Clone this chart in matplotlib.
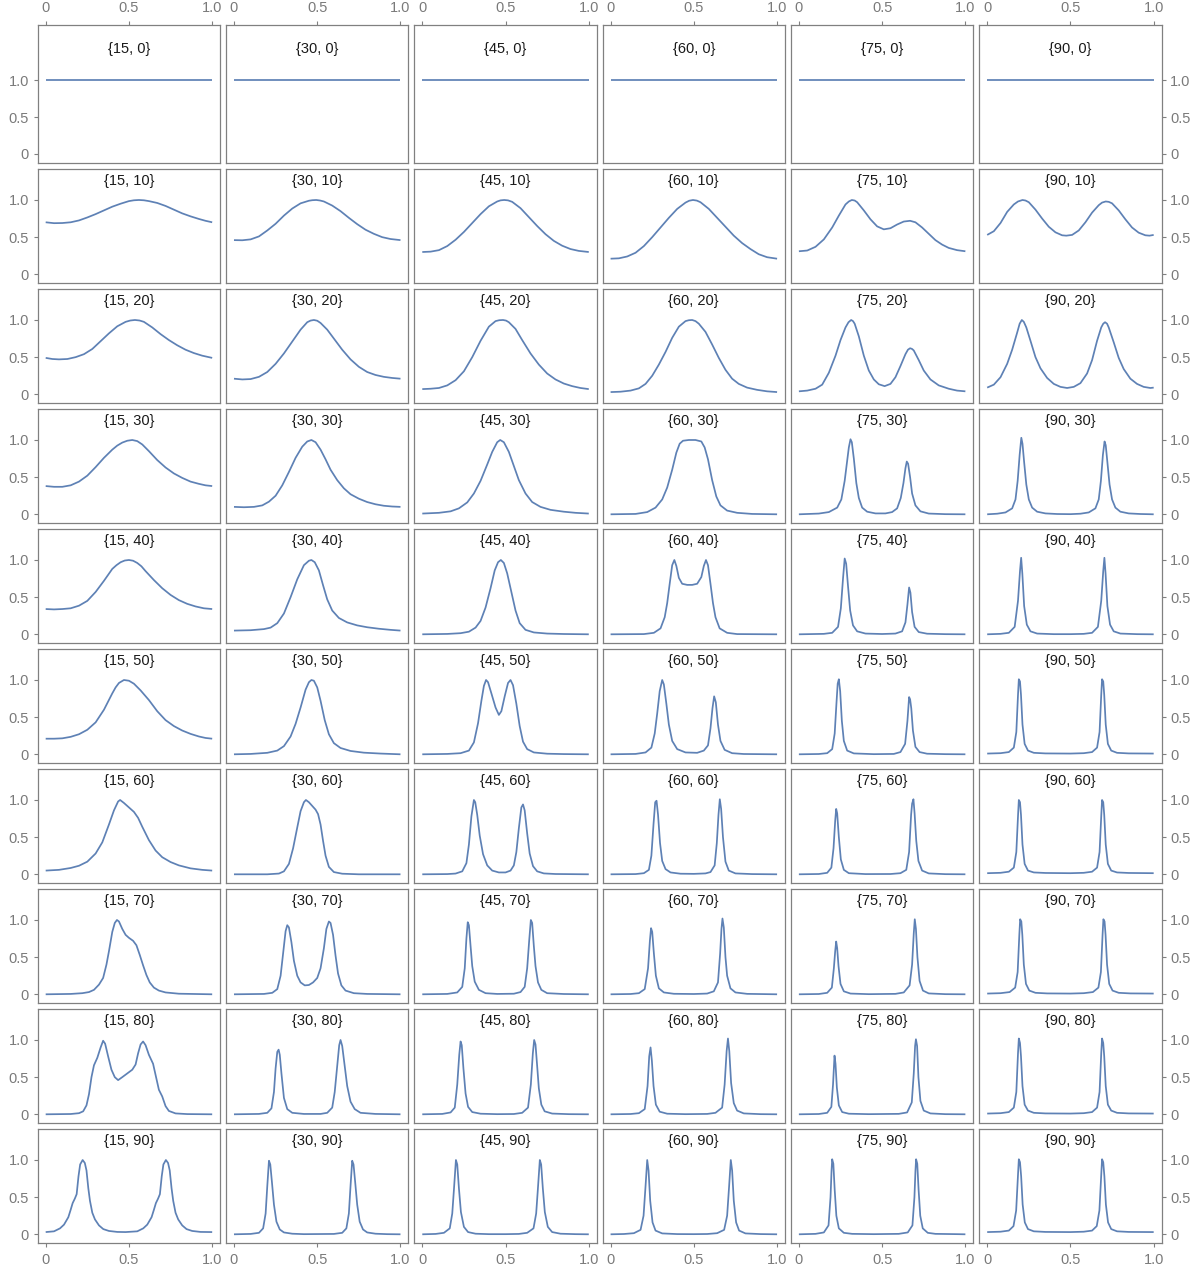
import matplotlib
matplotlib.use("Agg")
import matplotlib.pyplot as plt

# ---------------- data ----------------
theta1 = [15, 30, 45, 60, 75, 90]
theta2 = [0, 10, 20, 30, 40, 50, 60, 70, 80, 90]
tick_values = [0, 0.5, 1.0]
tick_labels = ["0", "0.5", "1.0"]

P15_0 = [(0.0, 1.0), (1.0, 1.0)]
P30_0 = [(0.0, 1.0), (1.0, 1.0)]
P45_0 = [(0.0, 1.0), (1.0, 1.0)]
P60_0 = [(0.0, 1.0), (1.0, 1.0)]
P75_0 = [(0.0, 1.0), (1.0, 1.0)]
P90_0 = [(0.0, 1.0), (1.0, 1.0)]

P15_10 = [(0, 0.70), (0.05, 0.688), (0.10, 0.69), (0.15, 0.70), (0.20, 0.725), (0.25, 0.765), (0.30, 0.81), (0.35, 0.86), (0.40, 0.91), (0.45, 0.95), (0.50, 0.985), (0.53, 0.996), (0.56, 1.0), (0.59, 0.996), (0.62, 0.985), (0.67, 0.96), (0.72, 0.92), (0.77, 0.87), (0.82, 0.82), (0.87, 0.78), (0.92, 0.745), (0.96, 0.72), (1.0, 0.70)]
P30_10 = [(0, 0.46), (0.05, 0.458), (0.10, 0.47), (0.15, 0.51), (0.20, 0.59), (0.25, 0.68), (0.30, 0.79), (0.35, 0.885), (0.40, 0.955), (0.45, 0.99), (0.47, 0.997), (0.494, 1.0), (0.517, 0.993), (0.54, 0.98), (0.59, 0.925), (0.64, 0.85), (0.69, 0.76), (0.74, 0.675), (0.79, 0.60), (0.84, 0.545), (0.89, 0.50), (0.94, 0.475), (1.0, 0.46)]
P45_10 = [(0, 0.30), (0.05, 0.305), (0.10, 0.325), (0.15, 0.38), (0.20, 0.465), (0.25, 0.57), (0.30, 0.69), (0.35, 0.81), (0.40, 0.915), (0.45, 0.98), (0.47, 0.995), (0.492, 1.0), (0.515, 0.995), (0.54, 0.975), (0.59, 0.89), (0.64, 0.77), (0.69, 0.65), (0.74, 0.54), (0.79, 0.45), (0.84, 0.385), (0.89, 0.34), (0.94, 0.315), (1.0, 0.30)]
P60_10 = [(0, 0.21), (0.05, 0.215), (0.10, 0.24), (0.15, 0.29), (0.20, 0.38), (0.25, 0.50), (0.30, 0.63), (0.35, 0.76), (0.40, 0.88), (0.45, 0.965), (0.472, 0.99), (0.495, 1.0), (0.518, 0.992), (0.54, 0.97), (0.59, 0.88), (0.64, 0.76), (0.69, 0.64), (0.74, 0.52), (0.79, 0.42), (0.84, 0.34), (0.89, 0.27), (0.94, 0.23), (1.0, 0.21)]
P75_10 = [(0, 0.31), (0.05, 0.32), (0.10, 0.37), (0.15, 0.47), (0.20, 0.63), (0.24, 0.79), (0.28, 0.94), (0.30, 0.98), (0.318, 1.0), (0.335, 0.993), (0.35, 0.97), (0.39, 0.86), (0.43, 0.74), (0.47, 0.645), (0.51, 0.605), (0.55, 0.62), (0.59, 0.67), (0.63, 0.71), (0.668, 0.72), (0.70, 0.70), (0.74, 0.63), (0.78, 0.545), (0.82, 0.46), (0.86, 0.40), (0.90, 0.355), (0.95, 0.325), (1.0, 0.31)]
P90_10 = [(0, 0.53), (0.04, 0.58), (0.08, 0.69), (0.12, 0.84), (0.16, 0.94), (0.185, 0.98), (0.212, 1.0), (0.23, 0.993), (0.25, 0.97), (0.29, 0.87), (0.33, 0.75), (0.37, 0.64), (0.41, 0.565), (0.45, 0.525), (0.475, 0.52), (0.51, 0.53), (0.55, 0.59), (0.59, 0.70), (0.63, 0.83), (0.67, 0.93), (0.69, 0.965), (0.712, 0.98), (0.73, 0.975), (0.75, 0.955), (0.79, 0.86), (0.83, 0.74), (0.87, 0.63), (0.91, 0.56), (0.95, 0.525), (0.975, 0.52), (1.0, 0.53)]

P15_20 = [(0, 0.49), (0.04, 0.475), (0.08, 0.47), (0.13, 0.475), (0.18, 0.50), (0.23, 0.54), (0.28, 0.61), (0.33, 0.715), (0.38, 0.82), (0.43, 0.915), (0.48, 0.975), (0.508, 0.993), (0.536, 1.0), (0.564, 0.993), (0.59, 0.975), (0.64, 0.90), (0.69, 0.81), (0.74, 0.73), (0.79, 0.66), (0.84, 0.60), (0.89, 0.555), (0.94, 0.52), (1.0, 0.49)]
P30_20 = [(0, 0.21), (0.05, 0.20), (0.10, 0.205), (0.15, 0.235), (0.20, 0.30), (0.25, 0.41), (0.30, 0.55), (0.35, 0.71), (0.40, 0.87), (0.44, 0.97), (0.46, 0.992), (0.48, 1.0), (0.50, 0.99), (0.52, 0.96), (0.56, 0.87), (0.60, 0.75), (0.65, 0.60), (0.70, 0.47), (0.75, 0.37), (0.80, 0.30), (0.85, 0.26), (0.90, 0.235), (0.95, 0.22), (1.0, 0.21)]
P45_20 = [(0, 0.07), (0.05, 0.075), (0.10, 0.085), (0.15, 0.12), (0.20, 0.19), (0.25, 0.31), (0.30, 0.50), (0.35, 0.72), (0.40, 0.91), (0.44, 0.985), (0.462, 0.997), (0.485, 1.0), (0.503, 0.992), (0.52, 0.97), (0.56, 0.88), (0.60, 0.73), (0.65, 0.55), (0.70, 0.40), (0.75, 0.28), (0.80, 0.20), (0.85, 0.145), (0.90, 0.11), (0.95, 0.085), (1.0, 0.07)]
P60_20 = [(0, 0.03), (0.06, 0.035), (0.12, 0.05), (0.17, 0.08), (0.21, 0.14), (0.25, 0.25), (0.29, 0.40), (0.33, 0.57), (0.37, 0.76), (0.41, 0.91), (0.45, 0.985), (0.47, 0.997), (0.49, 1.0), (0.51, 0.985), (0.53, 0.95), (0.57, 0.84), (0.61, 0.67), (0.65, 0.49), (0.69, 0.33), (0.73, 0.21), (0.77, 0.14), (0.82, 0.09), (0.88, 0.06), (0.94, 0.04), (1.0, 0.03)]
P75_20 = [(0, 0.04), (0.05, 0.05), (0.10, 0.075), (0.14, 0.13), (0.18, 0.29), (0.22, 0.52), (0.25, 0.73), (0.28, 0.90), (0.298, 0.97), (0.314, 1.0), (0.325, 0.985), (0.335, 0.95), (0.36, 0.78), (0.39, 0.52), (0.42, 0.32), (0.45, 0.20), (0.48, 0.135), (0.515, 0.11), (0.55, 0.14), (0.58, 0.23), (0.61, 0.38), (0.64, 0.54), (0.655, 0.60), (0.668, 0.62), (0.68, 0.61), (0.69, 0.59), (0.72, 0.46), (0.75, 0.32), (0.79, 0.20), (0.84, 0.12), (0.90, 0.075), (0.95, 0.05), (1.0, 0.04)]
P90_20 = [(0, 0.09), (0.04, 0.13), (0.08, 0.23), (0.12, 0.41), (0.15, 0.60), (0.18, 0.83), (0.195, 0.95), (0.208, 1.0), (0.22, 0.975), (0.235, 0.90), (0.26, 0.72), (0.29, 0.50), (0.32, 0.35), (0.36, 0.22), (0.40, 0.14), (0.44, 0.10), (0.48, 0.085), (0.52, 0.10), (0.56, 0.15), (0.60, 0.28), (0.63, 0.46), (0.66, 0.72), (0.685, 0.90), (0.697, 0.95), (0.708, 0.97), (0.72, 0.95), (0.73, 0.90), (0.76, 0.70), (0.79, 0.49), (0.82, 0.34), (0.86, 0.21), (0.90, 0.14), (0.94, 0.10), (0.98, 0.085), (1.0, 0.09)]

P15_30 = [(0, 0.38), (0.05, 0.37), (0.10, 0.37), (0.15, 0.39), (0.20, 0.44), (0.25, 0.52), (0.30, 0.635), (0.35, 0.76), (0.40, 0.87), (0.43, 0.925), (0.46, 0.965), (0.49, 0.99), (0.52, 1.0), (0.55, 0.985), (0.58, 0.94), (0.62, 0.85), (0.67, 0.73), (0.72, 0.63), (0.77, 0.55), (0.82, 0.49), (0.87, 0.44), (0.92, 0.41), (0.96, 0.39), (1.0, 0.38)]
P30_30 = [(0, 0.10), (0.06, 0.095), (0.12, 0.10), (0.17, 0.12), (0.21, 0.17), (0.25, 0.25), (0.29, 0.39), (0.33, 0.57), (0.37, 0.76), (0.41, 0.91), (0.44, 0.98), (0.465, 1.0), (0.49, 0.97), (0.52, 0.87), (0.55, 0.74), (0.58, 0.60), (0.62, 0.46), (0.66, 0.35), (0.70, 0.27), (0.75, 0.21), (0.80, 0.165), (0.85, 0.135), (0.90, 0.115), (0.95, 0.105), (1.0, 0.10)]
P45_30 = [(0, 0.01), (0.10, 0.02), (0.17, 0.04), (0.22, 0.08), (0.27, 0.16), (0.31, 0.28), (0.35, 0.45), (0.39, 0.67), (0.42, 0.84), (0.45, 0.97), (0.468, 1.0), (0.49, 0.97), (0.52, 0.84), (0.55, 0.65), (0.58, 0.46), (0.62, 0.28), (0.66, 0.165), (0.71, 0.10), (0.77, 0.06), (0.85, 0.035), (0.92, 0.02), (1.0, 0.01)]
P60_30 = [(0, 0.0), (0.15, 0.005), (0.22, 0.03), (0.27, 0.09), (0.31, 0.20), (0.34, 0.36), (0.37, 0.60), (0.395, 0.83), (0.415, 0.95), (0.435, 0.99), (0.47, 1.0), (0.51, 1.0), (0.545, 0.98), (0.565, 0.90), (0.585, 0.74), (0.61, 0.46), (0.635, 0.24), (0.66, 0.12), (0.70, 0.05), (0.76, 0.02), (0.85, 0.005), (1.0, 0.0)]
P75_30 = [(0, 0.0), (0.12, 0.01), (0.18, 0.03), (0.23, 0.09), (0.255, 0.20), (0.275, 0.45), (0.29, 0.72), (0.30, 0.90), (0.31, 1.01), (0.318, 0.97), (0.33, 0.75), (0.345, 0.42), (0.36, 0.22), (0.38, 0.09), (0.41, 0.035), (0.46, 0.012), (0.52, 0.012), (0.56, 0.03), (0.59, 0.08), (0.612, 0.22), (0.628, 0.42), (0.64, 0.62), (0.648, 0.71), (0.656, 0.68), (0.668, 0.50), (0.68, 0.28), (0.70, 0.12), (0.73, 0.04), (0.78, 0.01), (0.88, 0.002), (1.0, 0.0)]
P90_30 = [(0, 0.0), (0.06, 0.008), (0.11, 0.025), (0.15, 0.08), (0.17, 0.20), (0.183, 0.45), (0.195, 0.80), (0.205, 1.03), (0.212, 0.95), (0.222, 0.70), (0.235, 0.40), (0.25, 0.20), (0.27, 0.09), (0.30, 0.035), (0.35, 0.012), (0.42, 0.004), (0.50, 0.002), (0.56, 0.008), (0.61, 0.025), (0.65, 0.08), (0.67, 0.20), (0.683, 0.45), (0.695, 0.80), (0.705, 0.98), (0.712, 0.93), (0.722, 0.70), (0.735, 0.40), (0.75, 0.20), (0.77, 0.09), (0.80, 0.035), (0.85, 0.012), (0.92, 0.004), (1.0, 0.0)]

P15_40 = [(0, 0.34), (0.05, 0.335), (0.10, 0.34), (0.15, 0.35), (0.20, 0.385), (0.25, 0.45), (0.30, 0.57), (0.35, 0.72), (0.40, 0.88), (0.425, 0.93), (0.45, 0.97), (0.475, 0.993), (0.50, 1.0), (0.525, 0.99), (0.55, 0.96), (0.575, 0.915), (0.60, 0.85), (0.65, 0.73), (0.70, 0.62), (0.75, 0.53), (0.80, 0.46), (0.85, 0.41), (0.90, 0.375), (0.95, 0.35), (1.0, 0.34)]
P30_40 = [(0, 0.05), (0.10, 0.055), (0.18, 0.07), (0.22, 0.09), (0.26, 0.15), (0.30, 0.28), (0.34, 0.50), (0.38, 0.74), (0.42, 0.93), (0.45, 0.99), (0.465, 1.0), (0.485, 0.97), (0.51, 0.86), (0.535, 0.66), (0.56, 0.47), (0.59, 0.32), (0.63, 0.22), (0.68, 0.16), (0.74, 0.12), (0.80, 0.095), (0.87, 0.075), (0.94, 0.06), (1.0, 0.05)]
P45_40 = [(0, 0.0), (0.15, 0.005), (0.23, 0.015), (0.28, 0.035), (0.32, 0.09), (0.35, 0.18), (0.38, 0.36), (0.41, 0.62), (0.435, 0.86), (0.455, 0.97), (0.472, 1.0), (0.49, 0.96), (0.51, 0.82), (0.535, 0.57), (0.56, 0.32), (0.585, 0.15), (0.62, 0.06), (0.67, 0.025), (0.75, 0.01), (0.85, 0.004), (1.0, 0.0)]
P60_40 = [(0, 0.0), (0.20, 0.003), (0.26, 0.02), (0.30, 0.08), (0.325, 0.23), (0.34, 0.42), (0.355, 0.68), (0.37, 0.93), (0.383, 1.0), (0.395, 0.92), (0.41, 0.76), (0.43, 0.68), (0.46, 0.665), (0.49, 0.665), (0.52, 0.68), (0.545, 0.77), (0.56, 0.92), (0.573, 1.0), (0.585, 0.93), (0.60, 0.68), (0.615, 0.42), (0.63, 0.23), (0.655, 0.08), (0.70, 0.02), (0.76, 0.003), (1.0, 0.0)]
P75_40 = [(0, 0.0), (0.15, 0.006), (0.20, 0.02), (0.235, 0.10), (0.252, 0.35), (0.265, 0.75), (0.275, 1.02), (0.284, 0.95), (0.295, 0.65), (0.308, 0.32), (0.325, 0.12), (0.35, 0.04), (0.40, 0.01), (0.50, 0.004), (0.58, 0.01), (0.62, 0.04), (0.64, 0.16), (0.652, 0.40), (0.662, 0.63), (0.67, 0.56), (0.68, 0.30), (0.695, 0.10), (0.72, 0.03), (0.77, 0.008), (0.88, 0.002), (1.0, 0.0)]
P90_40 = [(0, 0.0), (0.08, 0.006), (0.13, 0.02), (0.165, 0.10), (0.185, 0.45), (0.197, 0.85), (0.204, 1.03), (0.211, 0.82), (0.222, 0.38), (0.238, 0.13), (0.26, 0.04), (0.30, 0.01), (0.40, 0.002), (0.50, 0.002), (0.58, 0.006), (0.63, 0.02), (0.665, 0.10), (0.685, 0.45), (0.697, 0.85), (0.704, 1.03), (0.711, 0.82), (0.722, 0.38), (0.738, 0.13), (0.76, 0.04), (0.80, 0.01), (0.90, 0.002), (1.0, 0.0)]

P15_50 = [(0, 0.21), (0.05, 0.21), (0.10, 0.215), (0.15, 0.235), (0.20, 0.27), (0.25, 0.33), (0.30, 0.43), (0.35, 0.60), (0.40, 0.82), (0.42, 0.90), (0.44, 0.96), (0.47, 1.0), (0.50, 0.99), (0.53, 0.95), (0.57, 0.86), (0.62, 0.73), (0.67, 0.58), (0.72, 0.46), (0.77, 0.38), (0.82, 0.32), (0.87, 0.275), (0.92, 0.24), (0.96, 0.22), (1.0, 0.21)]
P30_50 = [(0, 0.0), (0.10, 0.005), (0.20, 0.02), (0.26, 0.05), (0.30, 0.11), (0.34, 0.24), (0.37, 0.41), (0.40, 0.63), (0.43, 0.87), (0.45, 0.97), (0.465, 1.0), (0.48, 0.99), (0.50, 0.90), (0.52, 0.72), (0.545, 0.46), (0.57, 0.27), (0.60, 0.15), (0.64, 0.085), (0.70, 0.045), (0.78, 0.022), (0.88, 0.01), (1.0, 0.0)]
P45_50 = [(0, 0.0), (0.15, 0.005), (0.23, 0.015), (0.28, 0.05), (0.31, 0.16), (0.335, 0.42), (0.355, 0.72), (0.37, 0.92), (0.383, 1.0), (0.395, 0.97), (0.415, 0.82), (0.44, 0.63), (0.46, 0.53), (0.475, 0.58), (0.495, 0.78), (0.515, 0.96), (0.53, 1.0), (0.545, 0.93), (0.565, 0.68), (0.585, 0.38), (0.605, 0.17), (0.63, 0.07), (0.67, 0.025), (0.75, 0.008), (0.85, 0.003), (1.0, 0.0)]
P60_50 = [(0, 0.0), (0.15, 0.005), (0.21, 0.025), (0.245, 0.09), (0.265, 0.28), (0.28, 0.55), (0.295, 0.85), (0.31, 1.0), (0.32, 0.94), (0.335, 0.68), (0.35, 0.40), (0.37, 0.18), (0.40, 0.07), (0.45, 0.025), (0.52, 0.02), (0.56, 0.05), (0.585, 0.12), (0.60, 0.35), (0.612, 0.62), (0.622, 0.78), (0.632, 0.70), (0.645, 0.40), (0.66, 0.18), (0.685, 0.06), (0.73, 0.015), (0.80, 0.004), (1.0, 0.0)]
P75_50 = [(0, 0.0), (0.12, 0.004), (0.17, 0.015), (0.20, 0.07), (0.215, 0.28), (0.226, 0.70), (0.233, 0.95), (0.24, 1.01), (0.248, 0.85), (0.258, 0.45), (0.27, 0.18), (0.29, 0.05), (0.33, 0.012), (0.45, 0.002), (0.57, 0.005), (0.61, 0.03), (0.638, 0.14), (0.652, 0.45), (0.662, 0.77), (0.668, 0.74), (0.675, 0.62), (0.685, 0.32), (0.70, 0.10), (0.725, 0.03), (0.77, 0.008), (0.88, 0.002), (1.0, 0.0)]
P90_50 = [(0, 0.01), (0.08, 0.015), (0.13, 0.03), (0.16, 0.09), (0.175, 0.30), (0.185, 0.80), (0.19, 1.01), (0.197, 0.98), (0.203, 0.80), (0.212, 0.40), (0.225, 0.14), (0.245, 0.05), (0.28, 0.02), (0.35, 0.012), (0.50, 0.01), (0.58, 0.015), (0.63, 0.03), (0.66, 0.09), (0.675, 0.30), (0.685, 0.80), (0.69, 1.01), (0.697, 0.98), (0.703, 0.80), (0.712, 0.40), (0.725, 0.14), (0.745, 0.05), (0.78, 0.02), (0.85, 0.012), (1.0, 0.01)]

P15_60 = [(0, 0.05), (0.08, 0.06), (0.15, 0.085), (0.20, 0.115), (0.25, 0.17), (0.30, 0.28), (0.34, 0.43), (0.38, 0.67), (0.41, 0.86), (0.435, 0.98), (0.447, 1.0), (0.47, 0.96), (0.50, 0.90), (0.53, 0.84), (0.555, 0.76), (0.58, 0.64), (0.62, 0.46), (0.66, 0.32), (0.70, 0.23), (0.75, 0.165), (0.80, 0.12), (0.87, 0.08), (0.94, 0.06), (1.0, 0.05)]
P30_60 = [(0, 0.0), (0.20, 0.0), (0.27, 0.01), (0.30, 0.04), (0.33, 0.14), (0.355, 0.35), (0.38, 0.63), (0.40, 0.85), (0.42, 0.97), (0.432, 1.0), (0.45, 0.97), (0.47, 0.92), (0.49, 0.87), (0.505, 0.81), (0.52, 0.67), (0.535, 0.45), (0.55, 0.25), (0.57, 0.10), (0.60, 0.03), (0.65, 0.008), (0.75, 0.0), (1.0, 0.0)]
P45_60 = [(0, 0.0), (0.15, 0.003), (0.20, 0.01), (0.24, 0.04), (0.265, 0.15), (0.28, 0.40), (0.295, 0.78), (0.31, 1.0), (0.318, 0.97), (0.33, 0.80), (0.345, 0.52), (0.365, 0.27), (0.39, 0.12), (0.42, 0.05), (0.46, 0.025), (0.50, 0.025), (0.53, 0.05), (0.55, 0.12), (0.565, 0.30), (0.58, 0.62), (0.595, 0.90), (0.605, 0.94), (0.615, 0.86), (0.63, 0.55), (0.645, 0.28), (0.665, 0.11), (0.69, 0.04), (0.73, 0.012), (0.80, 0.004), (1.0, 0.0)]
P60_60 = [(0, 0.0), (0.15, 0.003), (0.20, 0.015), (0.23, 0.06), (0.245, 0.25), (0.258, 0.68), (0.268, 0.97), (0.276, 0.99), (0.285, 0.80), (0.297, 0.42), (0.31, 0.18), (0.33, 0.07), (0.36, 0.025), (0.42, 0.008), (0.50, 0.006), (0.57, 0.012), (0.60, 0.03), (0.625, 0.12), (0.638, 0.42), (0.648, 0.80), (0.656, 1.01), (0.664, 0.88), (0.675, 0.50), (0.69, 0.17), (0.71, 0.05), (0.75, 0.012), (0.85, 0.003), (1.0, 0.0)]
P75_60 = [(0, 0.0), (0.12, 0.004), (0.17, 0.02), (0.195, 0.09), (0.208, 0.35), (0.218, 0.72), (0.224, 0.88), (0.23, 0.82), (0.24, 0.50), (0.252, 0.20), (0.27, 0.06), (0.30, 0.015), (0.40, 0.003), (0.55, 0.004), (0.61, 0.015), (0.645, 0.06), (0.662, 0.30), (0.674, 0.80), (0.68, 0.95), (0.688, 1.01), (0.695, 0.82), (0.705, 0.45), (0.718, 0.18), (0.74, 0.05), (0.78, 0.012), (0.88, 0.002), (1.0, 0.0)]
P90_60 = [(0, 0.015), (0.08, 0.02), (0.13, 0.035), (0.16, 0.09), (0.175, 0.30), (0.185, 0.78), (0.19, 1.0), (0.197, 0.97), (0.203, 0.80), (0.212, 0.40), (0.225, 0.14), (0.245, 0.05), (0.28, 0.025), (0.35, 0.018), (0.50, 0.015), (0.58, 0.02), (0.63, 0.035), (0.66, 0.09), (0.675, 0.30), (0.685, 0.78), (0.69, 1.0), (0.697, 0.97), (0.703, 0.80), (0.712, 0.40), (0.725, 0.14), (0.745, 0.05), (0.78, 0.025), (0.85, 0.018), (1.0, 0.015)]

P15_70 = [(0, 0.0), (0.15, 0.005), (0.22, 0.015), (0.26, 0.03), (0.29, 0.06), (0.32, 0.13), (0.345, 0.22), (0.365, 0.40), (0.38, 0.58), (0.40, 0.84), (0.415, 0.96), (0.428, 1.0), (0.44, 0.98), (0.46, 0.88), (0.48, 0.80), (0.50, 0.76), (0.525, 0.72), (0.545, 0.66), (0.565, 0.53), (0.585, 0.39), (0.605, 0.26), (0.625, 0.16), (0.65, 0.09), (0.68, 0.05), (0.72, 0.025), (0.80, 0.008), (1.0, 0.0)]
P30_70 = [(0, 0.0), (0.18, 0.005), (0.23, 0.02), (0.26, 0.07), (0.28, 0.25), (0.295, 0.55), (0.31, 0.85), (0.32, 0.93), (0.33, 0.90), (0.345, 0.70), (0.36, 0.45), (0.38, 0.25), (0.40, 0.16), (0.425, 0.12), (0.45, 0.125), (0.475, 0.16), (0.50, 0.22), (0.52, 0.35), (0.54, 0.62), (0.555, 0.88), (0.57, 0.98), (0.58, 0.96), (0.595, 0.80), (0.61, 0.52), (0.625, 0.28), (0.645, 0.12), (0.67, 0.05), (0.72, 0.015), (0.80, 0.005), (1.0, 0.0)]
P45_70 = [(0, 0.0), (0.15, 0.005), (0.21, 0.025), (0.24, 0.10), (0.255, 0.35), (0.265, 0.75), (0.273, 0.97), (0.28, 0.93), (0.29, 0.65), (0.30, 0.38), (0.315, 0.17), (0.34, 0.06), (0.38, 0.015), (0.45, 0.005), (0.55, 0.008), (0.59, 0.03), (0.615, 0.10), (0.63, 0.35), (0.642, 0.72), (0.652, 1.0), (0.66, 0.96), (0.67, 0.65), (0.68, 0.38), (0.695, 0.16), (0.715, 0.06), (0.75, 0.015), (0.85, 0.004), (1.0, 0.0)]
P60_70 = [(0, 0.0), (0.12, 0.004), (0.17, 0.015), (0.205, 0.07), (0.225, 0.35), (0.236, 0.72), (0.243, 0.89), (0.25, 0.84), (0.26, 0.55), (0.272, 0.25), (0.29, 0.08), (0.32, 0.025), (0.38, 0.007), (0.50, 0.004), (0.58, 0.01), (0.62, 0.04), (0.645, 0.16), (0.658, 0.55), (0.666, 0.88), (0.672, 1.02), (0.68, 0.90), (0.69, 0.50), (0.70, 0.25), (0.72, 0.08), (0.75, 0.025), (0.82, 0.006), (1.0, 0.0)]
P75_70 = [(0, 0.0), (0.12, 0.004), (0.17, 0.02), (0.198, 0.09), (0.21, 0.35), (0.218, 0.58), (0.224, 0.71), (0.23, 0.62), (0.238, 0.38), (0.25, 0.14), (0.27, 0.04), (0.31, 0.01), (0.42, 0.002), (0.58, 0.006), (0.63, 0.025), (0.665, 0.12), (0.68, 0.40), (0.69, 0.82), (0.696, 1.01), (0.703, 0.88), (0.712, 0.50), (0.725, 0.18), (0.745, 0.05), (0.78, 0.012), (0.88, 0.002), (1.0, 0.0)]
P90_70 = [(0, 0.01), (0.08, 0.015), (0.135, 0.03), (0.168, 0.09), (0.183, 0.30), (0.193, 0.80), (0.198, 1.01), (0.205, 0.98), (0.211, 0.80), (0.22, 0.40), (0.233, 0.14), (0.253, 0.05), (0.29, 0.02), (0.36, 0.012), (0.50, 0.01), (0.58, 0.015), (0.635, 0.03), (0.668, 0.09), (0.683, 0.30), (0.693, 0.80), (0.698, 1.01), (0.705, 0.98), (0.711, 0.80), (0.72, 0.40), (0.733, 0.14), (0.753, 0.05), (0.79, 0.02), (0.86, 0.012), (1.0, 0.01)]

P15_80 = [(0, 0.0), (0.15, 0.004), (0.20, 0.015), (0.225, 0.04), (0.245, 0.12), (0.26, 0.27), (0.275, 0.50), (0.29, 0.66), (0.31, 0.76), (0.33, 0.90), (0.345, 0.99), (0.357, 0.95), (0.375, 0.78), (0.395, 0.60), (0.415, 0.50), (0.435, 0.46), (0.46, 0.50), (0.49, 0.55), (0.52, 0.60), (0.54, 0.67), (0.555, 0.82), (0.57, 0.94), (0.585, 0.98), (0.60, 0.93), (0.62, 0.80), (0.645, 0.68), (0.665, 0.48), (0.68, 0.33), (0.70, 0.24), (0.72, 0.11), (0.74, 0.045), (0.78, 0.012), (0.85, 0.003), (1.0, 0.0)]
P30_80 = [(0, 0.0), (0.15, 0.005), (0.20, 0.02), (0.225, 0.08), (0.24, 0.30), (0.25, 0.62), (0.26, 0.84), (0.268, 0.87), (0.275, 0.80), (0.285, 0.55), (0.30, 0.22), (0.32, 0.07), (0.35, 0.02), (0.42, 0.005), (0.52, 0.005), (0.56, 0.02), (0.59, 0.09), (0.605, 0.30), (0.62, 0.65), (0.632, 0.93), (0.64, 1.0), (0.65, 0.92), (0.665, 0.65), (0.68, 0.38), (0.70, 0.17), (0.725, 0.07), (0.76, 0.02), (0.85, 0.005), (1.0, 0.0)]
P45_80 = [(0, 0.0), (0.12, 0.005), (0.17, 0.025), (0.195, 0.09), (0.21, 0.40), (0.222, 0.80), (0.23, 0.98), (0.237, 0.93), (0.247, 0.62), (0.26, 0.28), (0.275, 0.10), (0.30, 0.03), (0.35, 0.008), (0.45, 0.002), (0.55, 0.004), (0.60, 0.02), (0.635, 0.09), (0.652, 0.40), (0.664, 0.82), (0.672, 1.0), (0.68, 0.94), (0.69, 0.65), (0.70, 0.35), (0.715, 0.13), (0.735, 0.04), (0.78, 0.01), (0.88, 0.002), (1.0, 0.0)]
P60_80 = [(0, 0.0), (0.12, 0.004), (0.17, 0.015), (0.205, 0.07), (0.222, 0.38), (0.232, 0.78), (0.24, 0.90), (0.248, 0.72), (0.258, 0.38), (0.272, 0.13), (0.295, 0.035), (0.34, 0.008), (0.45, 0.002), (0.58, 0.005), (0.63, 0.02), (0.67, 0.09), (0.685, 0.40), (0.697, 0.85), (0.705, 1.02), (0.713, 0.85), (0.724, 0.42), (0.74, 0.15), (0.76, 0.05), (0.80, 0.012), (0.90, 0.002), (1.0, 0.0)]
P75_80 = [(0, 0.0), (0.12, 0.004), (0.17, 0.02), (0.195, 0.10), (0.205, 0.40), (0.214, 0.79), (0.22, 0.68), (0.228, 0.36), (0.24, 0.12), (0.26, 0.03), (0.30, 0.008), (0.42, 0.002), (0.60, 0.006), (0.65, 0.025), (0.678, 0.16), (0.69, 0.55), (0.698, 0.92), (0.703, 1.01), (0.71, 0.92), (0.718, 0.50), (0.73, 0.18), (0.75, 0.05), (0.79, 0.012), (0.88, 0.002), (1.0, 0.0)]
P90_80 = [(0, 0.01), (0.08, 0.015), (0.13, 0.03), (0.16, 0.09), (0.175, 0.30), (0.185, 0.82), (0.19, 1.02), (0.197, 0.96), (0.203, 0.78), (0.212, 0.38), (0.225, 0.13), (0.245, 0.05), (0.28, 0.02), (0.35, 0.012), (0.50, 0.01), (0.58, 0.015), (0.63, 0.03), (0.66, 0.09), (0.675, 0.30), (0.685, 0.82), (0.69, 1.02), (0.697, 0.96), (0.703, 0.78), (0.712, 0.38), (0.725, 0.13), (0.745, 0.05), (0.78, 0.02), (0.85, 0.012), (1.0, 0.01)]

P15_90 = [(0, 0.03), (0.05, 0.04), (0.086, 0.08), (0.11, 0.13), (0.136, 0.23), (0.15, 0.33), (0.162, 0.42), (0.175, 0.48), (0.186, 0.54), (0.197, 0.78), (0.207, 0.94), (0.222, 1.0), (0.235, 0.96), (0.245, 0.86), (0.256, 0.62), (0.266, 0.45), (0.28, 0.29), (0.296, 0.20), (0.32, 0.12), (0.346, 0.07), (0.38, 0.045), (0.43, 0.032), (0.48, 0.03), (0.55, 0.04), (0.586, 0.08), (0.61, 0.13), (0.636, 0.23), (0.65, 0.33), (0.662, 0.42), (0.675, 0.48), (0.686, 0.54), (0.697, 0.78), (0.707, 0.94), (0.722, 1.0), (0.735, 0.96), (0.745, 0.86), (0.756, 0.62), (0.766, 0.45), (0.78, 0.29), (0.796, 0.20), (0.82, 0.12), (0.846, 0.07), (0.88, 0.045), (0.93, 0.032), (1.0, 0.03)]
P30_90 = [(0, 0.0), (0.10, 0.005), (0.15, 0.02), (0.175, 0.08), (0.19, 0.28), (0.20, 0.65), (0.21, 0.99), (0.218, 0.94), (0.228, 0.70), (0.24, 0.40), (0.255, 0.17), (0.275, 0.065), (0.30, 0.025), (0.35, 0.008), (0.42, 0.002), (0.60, 0.005), (0.65, 0.02), (0.675, 0.08), (0.69, 0.28), (0.70, 0.65), (0.71, 0.99), (0.718, 0.94), (0.728, 0.70), (0.74, 0.40), (0.755, 0.17), (0.775, 0.065), (0.80, 0.025), (0.85, 0.008), (0.92, 0.002), (1.0, 0.0)]
P45_90 = [(0, 0.0), (0.08, 0.005), (0.13, 0.02), (0.165, 0.08), (0.18, 0.28), (0.19, 0.60), (0.202, 1.0), (0.21, 0.94), (0.22, 0.62), (0.232, 0.30), (0.25, 0.10), (0.275, 0.03), (0.32, 0.008), (0.40, 0.002), (0.50, 0.002), (0.58, 0.005), (0.63, 0.02), (0.668, 0.08), (0.684, 0.28), (0.694, 0.60), (0.706, 1.0), (0.714, 0.94), (0.724, 0.62), (0.736, 0.30), (0.754, 0.10), (0.78, 0.03), (0.83, 0.008), (0.92, 0.002), (1.0, 0.0)]
P60_90 = [(0, 0.0), (0.08, 0.004), (0.14, 0.015), (0.18, 0.06), (0.198, 0.25), (0.21, 0.65), (0.22, 1.0), (0.228, 0.86), (0.238, 0.45), (0.252, 0.16), (0.27, 0.05), (0.31, 0.012), (0.40, 0.003), (0.50, 0.002), (0.58, 0.004), (0.64, 0.015), (0.682, 0.06), (0.70, 0.25), (0.712, 0.65), (0.722, 1.0), (0.73, 0.86), (0.74, 0.45), (0.754, 0.16), (0.772, 0.05), (0.81, 0.012), (0.90, 0.003), (1.0, 0.0)]
P75_90 = [(0, 0.0), (0.10, 0.006), (0.15, 0.025), (0.178, 0.12), (0.19, 0.50), (0.196, 0.85), (0.20, 1.01), (0.207, 0.95), (0.215, 0.60), (0.225, 0.25), (0.24, 0.08), (0.27, 0.02), (0.32, 0.006), (0.45, 0.002), (0.60, 0.006), (0.654, 0.025), (0.682, 0.12), (0.694, 0.50), (0.70, 0.85), (0.704, 1.01), (0.711, 0.95), (0.719, 0.60), (0.729, 0.25), (0.744, 0.08), (0.774, 0.02), (0.82, 0.006), (0.95, 0.002), (1.0, 0.0)]
P90_90 = [(0, 0.03), (0.08, 0.035), (0.13, 0.05), (0.158, 0.11), (0.174, 0.32), (0.185, 0.80), (0.19, 1.01), (0.197, 0.97), (0.204, 0.78), (0.213, 0.40), (0.226, 0.16), (0.245, 0.07), (0.28, 0.04), (0.35, 0.032), (0.50, 0.03), (0.58, 0.035), (0.63, 0.05), (0.658, 0.11), (0.674, 0.32), (0.685, 0.80), (0.69, 1.01), (0.697, 0.97), (0.704, 0.78), (0.713, 0.40), (0.726, 0.16), (0.745, 0.07), (0.78, 0.04), (0.85, 0.032), (1.0, 0.03)]

# ---------------- style ----------------
LINE_COLOR = "#5E81B5"
FRAME_COLOR = "#808080"
TICK_TEXT = "#7a7a7a"
TITLE_COLOR = "#1a1a1a"
plt.rcParams["font.family"] = ["Liberation Sans", "DejaVu Sans"]

W, H = 1200, 1276
fig = plt.figure(figsize=(W / 100, H / 100), dpi=100)
fig.patch.set_facecolor("white")

COL_LEFT0, COL_STEP, COL_W = 37.7, 188.3, 182.3
ROW0_TOP, ROW0_H = 25.3, 137.4
ROW_TOP1, ROW_STEP, ROW_H = 169.3, 120.0, 113.4

for r, t2 in enumerate(theta2):
    if r == 0:
        top, h = ROW0_TOP, ROW0_H
        ylim = (-0.118, 1.743)
        title_y = 1 - 24.0 / ROW0_H
    else:
        top, h = ROW_TOP1 + ROW_STEP * (r - 1), ROW_H
        ylim = (-0.113, 1.413)
        title_y = 1 - 11.5 / ROW_H
    for c, t1 in enumerate(theta1):
        left = COL_LEFT0 + COL_STEP * c
        ax = fig.add_axes([left / W, 1 - (top + h) / H, COL_W / W, h / H])
        pts = globals()["P%d_%d" % (t1, t2)]
        xs = [p[0] for p in pts]
        ys = [p[1] for p in pts]
        ax.plot(xs, ys, color=LINE_COLOR, lw=1.25, solid_joinstyle="round",
                solid_capstyle="butt")
        ax.set_xlim(-0.048, 1.047)
        ax.set_ylim(*ylim)
        for s in ax.spines.values():
            s.set_color(FRAME_COLOR)
            s.set_linewidth(0.9)
        ax.set_xticks(tick_values)
        ax.set_xticklabels(tick_labels)
        ax.set_yticks(tick_values)
        ax.set_yticklabels(tick_labels)
        ax.tick_params(axis="x", direction="out", length=3.2, width=0.8,
                       color=FRAME_COLOR, labelcolor=TICK_TEXT, labelsize=10.5,
                       pad=4.2, bottom=(r == len(theta2) - 1), top=(r == 0),
                       labelbottom=(r == len(theta2) - 1), labeltop=(r == 0))
        ax.tick_params(axis="y", direction="out", length=3.2, width=0.8,
                       color=FRAME_COLOR, labelcolor=TICK_TEXT, labelsize=10.5,
                       pad=3.0, left=(c == 0), right=(c == len(theta1) - 1),
                       labelleft=(c == 0), labelright=(c == len(theta1) - 1))
        ax.text(0.5, title_y, "{%d, %d}" % (t1, t2), transform=ax.transAxes,
                ha="center", va="center", fontsize=10.5, color=TITLE_COLOR)

fig.savefig("out.png", dpi=100, facecolor="white")
